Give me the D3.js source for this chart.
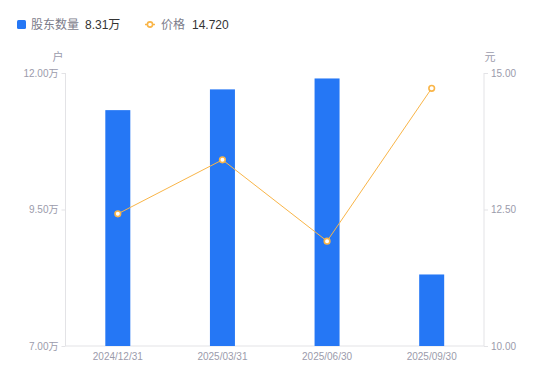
<!DOCTYPE html>
<html>
<head>
<meta charset="utf-8">
<script src="https://cdn.jsdelivr.net/npm/d3@7"></script>
<style>
  body { margin: 0; background: #fff; }
  svg text { font-family: "Liberation Sans", Arial, "Noto Sans CJK SC", sans-serif; }
</style>
</head>
<body>
<div id="chart"></div>
<script>
// chart data
var dates = ["2024/12/31", "2025/03/31", "2025/06/30", "2025/09/30"]
var holders = [11.32, 11.70, 11.90, 8.31]   // 万户
var prices = [12.42, 13.41, 11.92, 14.72]   // 元
var leftTicks = [7.00, 9.50, 12.00]
var rightTicks = [10.00, 12.50, 15.00]

var width = 550, height = 381
var margin = { top: 73, right: 66, bottom: 35, left: 65.5 }
var barColor = "#2577f5"
var lineColor = "#f9b548"
var axisColor = "#e3e3e6"
var tickColor = "#9b9bab"

var svg = d3.select("#chart")
  .append("svg")
    .attr("width", width)
    .attr("height", height)

var x = d3.scaleBand()
  .domain(dates)
  .range([margin.left, width - margin.right])

var yLeft = d3.scaleLinear()
  .domain([7, 12])
  .range([height - margin.bottom, margin.top])

var yRight = d3.scaleLinear()
  .domain([10, 15])
  .range([height - margin.bottom, margin.top])

// Left axis
var gLeft = svg.append("g")
  .attr("transform", "translate(" + margin.left + ",0)")
  .call(d3.axisLeft(yLeft).tickValues(leftTicks).tickSize(4).tickPadding(3)
    .tickFormat(function(d) { return d3.format(".2f")(d) + "万" }))

// Right axis
var gRight = svg.append("g")
  .attr("transform", "translate(" + (width - margin.right) + ",0)")
  .call(d3.axisRight(yRight).tickValues(rightTicks).tickSize(4).tickPadding(3)
    .tickFormat(d3.format(".2f")))

// Bottom axis
var gBottom = svg.append("g")
  .attr("transform", "translate(0," + (height - margin.bottom) + ")")
  .call(d3.axisBottom(x).tickSize(0).tickPadding(7))

;[gLeft, gRight, gBottom].forEach(function(g) {
  g.select(".domain").attr("stroke", axisColor)
  g.selectAll(".tick line").attr("stroke", axisColor)
  g.selectAll(".tick text")
    .attr("fill", tickColor)
    .style("font-size", "10px")
    .style("font-family", "'Liberation Sans', Arial, 'Noto Sans CJK SC', sans-serif")
})
gLeft.select(".domain").attr("d", "M0," + margin.top + "V" + (height - margin.bottom))
gRight.select(".domain").attr("d", "M0," + margin.top + "V" + (height - margin.bottom))
gBottom.select(".domain").attr("d", "M" + margin.left + ",0H" + (width - margin.right))

// Units
svg.append("text")
  .attr("x", 58).attr("y", 61)
  .attr("text-anchor", "middle")
  .style("font-size", "11px")
  .attr("fill", tickColor)
  .text("户")

svg.append("text")
  .attr("x", 490).attr("y", 61)
  .attr("text-anchor", "middle")
  .style("font-size", "11px")
  .attr("fill", tickColor)
  .text("元")

// Bars
var barW = 25
svg.append("g")
  .selectAll("rect")
  .data(holders)
  .enter()
  .append("rect")
    .attr("x", function(d, i) { return x(dates[i]) + x.bandwidth() / 2 - barW / 2 })
    .attr("y", function(d) { return yLeft(d) })
    .attr("width", barW)
    .attr("height", function(d) { return yLeft(7) - yLeft(d) })
    .attr("fill", barColor)

// Price line
var line = d3.line()
  .x(function(d, i) { return x(dates[i]) + x.bandwidth() / 2 })
  .y(function(d) { return yRight(d) })

svg.append("path")
  .datum(prices)
  .attr("d", line)
  .attr("fill", "none")
  .attr("stroke", lineColor)
  .attr("stroke-width", 1)

svg.append("g")
  .selectAll("circle")
  .data(prices)
  .enter()
  .append("circle")
    .attr("cx", function(d, i) { return x(dates[i]) + x.bandwidth() / 2 })
    .attr("cy", function(d) { return yRight(d) })
    .attr("r", 2.8)
    .attr("fill", "#fff")
    .attr("stroke", lineColor)
    .attr("stroke-width", 1.6)

// Legend
var legend = svg.append("g")
legend.append("rect")
  .attr("x", 17).attr("y", 20)
  .attr("width", 9).attr("height", 9)
  .attr("rx", 1.5)
  .attr("fill", barColor)
legend.append("text")
  .attr("x", 31).attr("y", 29)
  .style("font-size", "12px")
  .attr("fill", "#7c7c8a")
  .text("股东数量")
legend.append("text")
  .attr("x", 85).attr("y", 29)
  .style("font-size", "12px")
  .attr("fill", "#333")
  .text(d3.format(".2f")(holders[holders.length - 1]) + "万")

legend.append("line")
  .attr("x1", 145).attr("x2", 155)
  .attr("y1", 24.5).attr("y2", 24.5)
  .attr("stroke", lineColor)
  .attr("stroke-width", 1.5)
legend.append("circle")
  .attr("cx", 150).attr("cy", 24.5)
  .attr("r", 2.6)
  .attr("fill", "#fff")
  .attr("stroke", lineColor)
  .attr("stroke-width", 1.6)
legend.append("text")
  .attr("x", 161).attr("y", 29)
  .style("font-size", "12px")
  .attr("fill", "#7c7c8a")
  .text("价格")
legend.append("text")
  .attr("x", 192).attr("y", 29)
  .style("font-size", "12px")
  .attr("fill", "#333")
  .text(d3.format(".3f")(prices[prices.length - 1]))
</script>
</body>
</html>
